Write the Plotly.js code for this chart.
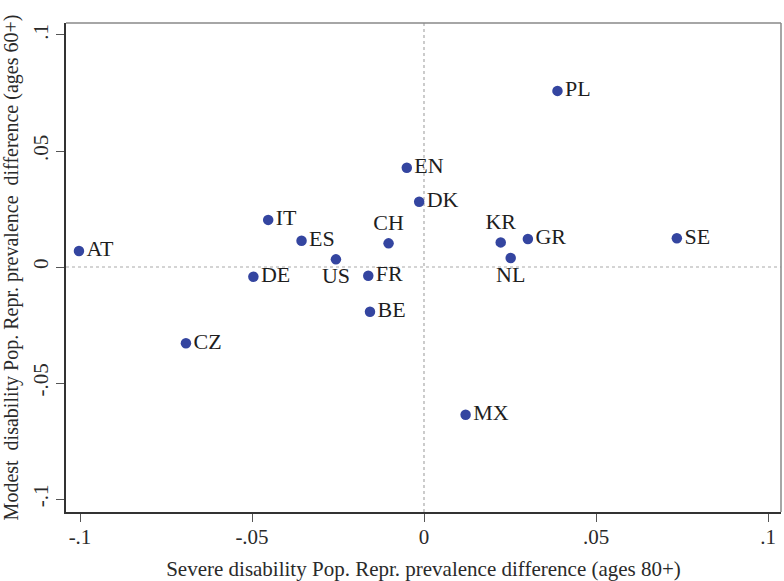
<!DOCTYPE html>
<html>
<head>
<meta charset="utf-8">
<script src="https://cdn.plot.ly/plotly-3.0.1.min.js"></script>
<style>html,body{margin:0;padding:0;background:#fff;}#chart{width:784px;height:581px;}</style>
</head>
<body>
<div id="chart"></div>
<script>
const countries = ['PL','EN','DK','IT','ES','CH','AT','US','KR','GR','SE','NL','DE','FR','BE','CZ','MX'];
const severe80 = [0.0388,-0.0050,-0.0014,-0.0453,-0.0356,-0.0103,-0.1003,-0.0256,0.0223,0.0302,0.0735,0.0252,-0.0496,-0.0162,-0.0157,-0.0692,0.0121];
const modest60 = [0.0759,0.0428,0.0281,0.0203,0.0113,0.0102,0.0069,0.0033,0.0106,0.0121,0.0124,0.0039,-0.0042,-0.0038,-0.0193,-0.0329,-0.0637];
const labelPos = ['middle right','middle right','middle right','middle right','middle right','top center','middle right','bottom center','top center','middle right','middle right','bottom center','middle right','middle right','middle right','middle right','middle right'];
const tickVals = [-0.1,-0.05,0,0.05,0.1];
const tickText = ['-.1','-.05','0','.05','.1'];
const xTitle = 'Severe disability Pop. Repr. prevalence difference (ages 80+)';
const yTitle = 'Modest\u00a0 disability Pop. Repr. prevalence\u00a0 difference (ages 60+)';

const serif = '"Liberation Serif", "Times New Roman", serif';

const trace = {
  x: severe80, y: modest60, text: countries,
  type: 'scatter', mode: 'markers+text',
  textposition: labelPos,
  textfont: {family: serif, size: 22, color: '#1e1e1e'},
  marker: {size: 10.5, color: '#3445a0'},
  cliponaxis: false, hoverinfo: 'skip'
};

const layout = {
  width: 784, height: 581,
  margin: {l: 66, r: 3, t: 23, b: 69, pad: 0},
  paper_bgcolor: '#fff', plot_bgcolor: '#fff',
  showlegend: false,
  font: {family: serif, color: '#333'},
  xaxis: {
    range: [-0.10407, 0.10378], tickvals: tickVals, ticktext: tickText,
    showgrid: false, zeroline: false,
    showline: true, linecolor: '#333', linewidth: 2,
    ticks: 'outside', ticklen: 8, tickcolor: '#555', tickwidth: 1,
    ticklabelstandoff: -3,
    tickfont: {family: serif, size: 21, color: '#2a2a2a'},
    title: {text: xTitle, font: {family: serif, size: 21, color: '#2a2a2a'}, standoff: 14}
  },
  yaxis: {
    range: [-0.1056, 0.10517], tickvals: tickVals, ticktext: tickText,
    showgrid: false, zeroline: false,
    showline: true, linecolor: '#333', linewidth: 2,
    ticks: 'outside', ticklen: 8, tickcolor: '#555', tickwidth: 1,
    tickangle: -90,
    tickfont: {family: serif, size: 21, color: '#2a2a2a'},
    title: {text: yTitle, font: {family: serif, size: 20, color: '#2a2a2a'}, standoff: 9}
  },
  shapes: [
    {type: 'line', xref: 'x', yref: 'paper', x0: 0, x1: 0, y0: 0, y1: 1, line: {color: '#aaa', width: 1.2, dash: 'dot'}, layer: 'below'},
    {type: 'line', xref: 'paper', yref: 'y', x0: 0, x1: 1, y0: 0, y1: 0, line: {color: '#aaa', width: 1.2, dash: 'dot'}, layer: 'below'},
    {type: 'line', xref: 'paper', yref: 'paper', x0: 0, x1: 1, y0: 1, y1: 1, line: {color: '#888', width: 1.5}},
    {type: 'line', xref: 'paper', yref: 'paper', x0: 1, x1: 1, y0: 0, y1: 1, line: {color: '#888', width: 1.5}}
  ]
};

Plotly.newPlot('chart', [trace], layout, {displayModeBar: false, staticPlot: true});
</script>
</body>
</html>
